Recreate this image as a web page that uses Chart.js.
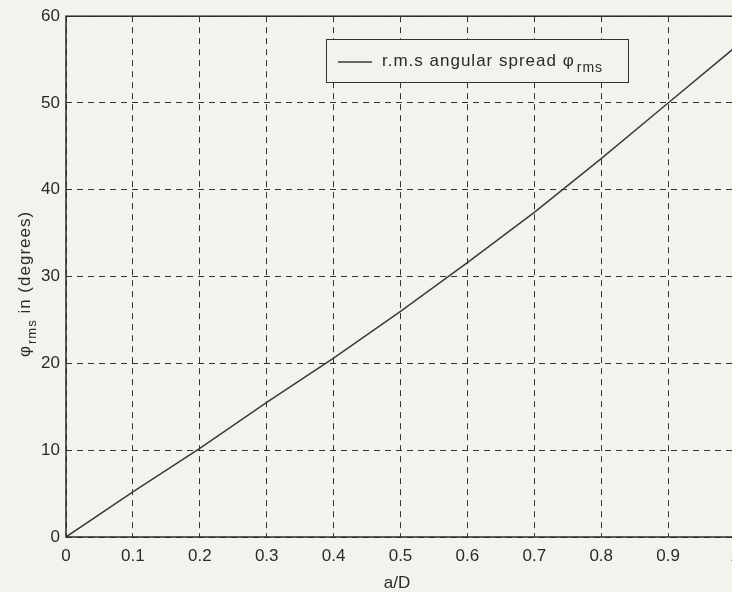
<!DOCTYPE html>
<html>
<head>
<meta charset="utf-8">
<script src="https://cdn.jsdelivr.net/npm/chart.js@4/dist/chart.umd.min.js"></script>
<style>
  html, body { margin: 0; padding: 0; overflow: hidden; background: #f3f3ee; width: 732px; height: 592px; }
  #c { position: absolute; left: 0; top: 0; }
</style>
</head>
<body>
<canvas id="c" width="760" height="592"></canvas>
<script>
// ---- data ----
const aOverD = [0, 0.1, 0.2, 0.3, 0.4, 0.5, 0.6, 0.7, 0.8, 0.9, 1.0];
const phiRms = [0, 5.2, 10.2, 15.5, 20.6, 26.0, 31.6, 37.4, 43.6, 50.0, 56.4];
const xTickLabels = ['0', '0.1', '0.2', '0.3', '0.4', '0.5', '0.6', '0.7', '0.8', '0.9', '1'];
const yTickLabels = ['0', '10', '20', '30', '40', '50', '60'];
const seriesLabel = 'r.m.s angular spread \u03C6';
const seriesSub = 'rms';
const xTitle = 'a/D';
const yTitleMain = '\u03C6';
const yTitleSub = 'rms';
const yTitleRest = ' in (degrees)';

const BG = '#f3f3ee';
const INK = '#2a2a2a';
const FONT = '"Liberation Sans", Arial, Helvetica, sans-serif';

const points = aOverD.map((x, i) => ({ x: x, y: phiRms[i] }));

const customDraw = {
  id: 'customDraw',
  beforeDraw(chart) {
    const ctx = chart.ctx;
    ctx.save();
    ctx.fillStyle = BG;
    ctx.fillRect(0, 0, chart.width, chart.height);
    ctx.restore();
  },
  afterDraw(chart) {
    const ctx = chart.ctx;
    const a = chart.chartArea;
    ctx.save();
    // frame
    ctx.strokeStyle = INK;
    ctx.lineWidth = 1.5;
    ctx.setLineDash([]);
    ctx.strokeRect(a.left, a.top, a.right - a.left, a.bottom - a.top);

    // legend box
    const bx = 326, by = 39, bw = 302, bh = 43;
    ctx.fillStyle = BG;
    ctx.fillRect(bx, by, bw, bh);
    ctx.lineWidth = 1;
    ctx.strokeStyle = '#333';
    ctx.strokeRect(bx + 0.5, by + 0.5, bw, bh);
    ctx.lineWidth = 1.5;
    ctx.strokeStyle = '#3a3a3a';
    ctx.beginPath();
    ctx.moveTo(338, 62);
    ctx.lineTo(372, 62);
    ctx.stroke();
    ctx.fillStyle = INK;
    ctx.textBaseline = 'alphabetic';
    ctx.textAlign = 'left';
    ctx.font = '17px ' + FONT;
    if ('letterSpacing' in ctx) ctx.letterSpacing = '1px';
    ctx.fillText(seriesLabel, 382, 66);
    const lw = ctx.measureText(seriesLabel).width;
    ctx.font = '14px ' + FONT;
    ctx.fillText(seriesSub, 382 + lw + 2, 72);

    // x title
    ctx.font = '17px ' + FONT;
    if ('letterSpacing' in ctx) ctx.letterSpacing = '0px';
    ctx.textAlign = 'center';
    ctx.fillText(xTitle, 397, 588);

    // y title (rotated)
    ctx.translate(30, 357);
    ctx.rotate(-Math.PI / 2);
    ctx.textAlign = 'left';
    if ('letterSpacing' in ctx) ctx.letterSpacing = '1px';
    ctx.font = '17px ' + FONT;
    ctx.fillText(yTitleMain, 0, 0);
    let off = ctx.measureText(yTitleMain).width + 1;
    ctx.font = '13px ' + FONT;
    ctx.fillText(yTitleSub, off, 6);
    off += ctx.measureText(yTitleSub).width;
    ctx.font = '17px ' + FONT;
    ctx.fillText(yTitleRest, off, 0);
    ctx.restore();
  }
};

new Chart(document.getElementById('c'), {
  type: 'scatter',
  data: {
    datasets: [{
      label: seriesLabel + seriesSub,
      data: points,
      showLine: true,
      borderColor: '#3a3a3a',
      borderWidth: 1.5,
      pointRadius: 0,
      fill: false,
      tension: 0
    }]
  },
  options: {
    responsive: false,
    devicePixelRatio: 1,
    animation: false,
    layout: { padding: { top: 14, right: 25, left: 0, bottom: 0 } },
    plugins: { legend: { display: false }, tooltip: { enabled: false } },
    scales: {
      x: {
        type: 'linear',
        min: 0, max: 1,
        afterFit(scale) { scale.height = 55; },
        afterBuildTicks(scale) { scale.ticks = xTickLabels.map((t, i) => ({ value: i / 10 })); },
        ticks: {
          autoSkip: false,
          maxRotation: 0,
          padding: 9,
          color: INK,
          font: { family: FONT, size: 17 },
          callback: (v, i) => xTickLabels[i]
        },
        grid: { color: '#333', lineWidth: 1, drawTicks: false },
        border: { display: false, dash: [6, 5] }
      },
      y: {
        type: 'linear',
        min: 0, max: 60,
        afterFit(scale) { scale.width = 66; },
        afterBuildTicks(scale) { scale.ticks = yTickLabels.map((t) => ({ value: Number(t) })); },
        ticks: {
          autoSkip: false,
          padding: 6,
          color: INK,
          font: { family: FONT, size: 17 },
          callback: (v, i) => yTickLabels[i]
        },
        grid: { color: '#333', lineWidth: 1, drawTicks: false },
        border: { display: false, dash: [6, 5] }
      }
    }
  },
  plugins: [customDraw]
});
</script>
</body>
</html>
